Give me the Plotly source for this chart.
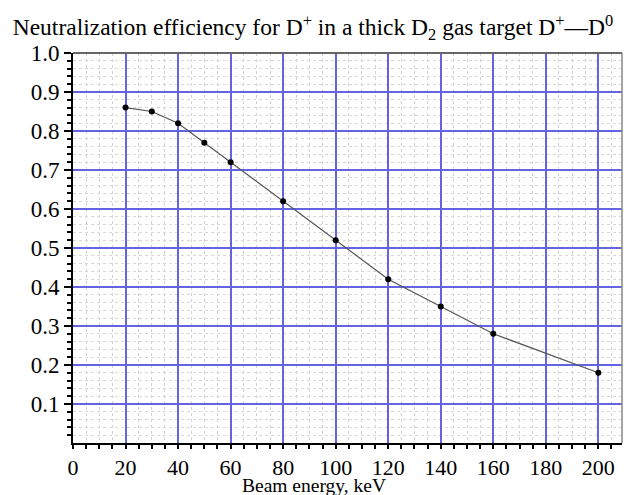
import plotly.graph_objects as go

energy = [20, 30, 40, 50, 60, 80, 100, 120, 140, 160, 200]
efficiency = [0.86, 0.85, 0.82, 0.77, 0.72, 0.62, 0.52, 0.42, 0.35, 0.28, 0.18]

x_ticks = [0, 20, 40, 60, 80, 100, 120, 140, 160, 180, 200]
y_ticks = [0.1, 0.2, 0.3, 0.4, 0.5, 0.6, 0.7, 0.8, 0.9, 1.0]
y_tick_text = ["0.1", "0.2", "0.3", "0.4", "0.5", "0.6", "0.7", "0.8", "0.9", "1.0"]

# minor positions (exclude major ones to avoid overlap)
x_minor = [v for v in range(0, 210, 5) if v % 20 != 0]
y_minor = [k / 100 for k in range(0, 101, 2) if k % 10 != 0]

font_family = "Liberation Serif"

fig = go.Figure()
fig.add_trace(go.Scatter(
    x=energy, y=efficiency, mode="lines+markers",
    line=dict(color="#555555", width=1.2),
    marker=dict(color="black", size=6),
    showlegend=False,
))

fig.update_layout(
    width=626, height=495,
    margin=dict(l=73, r=4, t=53, b=52),
    paper_bgcolor="white", plot_bgcolor="white",
    font=dict(family=font_family, color="black"),
    title=dict(
        text="Neutralization efficiency for D<sup>+</sup> in a thick D<sub>2</sub> gas target D<sup>+</sup>—D<sup>0</sup>",
        x=0.5, xanchor="center", xref="container",
        y=0.945, yanchor="middle", yref="container",
        font=dict(size=23.5, family=font_family, color="black"),
    ),
    shapes=[
        dict(type="line", xref="paper", yref="paper", x0=0, x1=1, y0=1, y1=1,
             line=dict(color="#666666", width=2)),
        dict(type="line", xref="paper", yref="paper", x0=1, x1=1, y0=0, y1=1,
             line=dict(color="#888888", width=1.5)),
    ],
    annotations=[
        dict(text="Beam energy, keV", xref="paper", yref="paper", x=0.439, y=0,
             xanchor="center", yanchor="middle", yshift=-42, showarrow=False,
             font=dict(size=19.5, family=font_family, color="black")),
    ],
)

fig.update_xaxes(
    range=[0, 209], tickvals=x_ticks, ticktext=[str(v) for v in x_ticks],
    showgrid=True, gridcolor="#6464e2", gridwidth=1.5,
    showline=True, linecolor="black", linewidth=2,
    ticks="outside", ticklen=4, tickwidth=2, tickcolor="black",
    tickfont=dict(size=22, family=font_family, color="black"),
    zeroline=False,
    minor=dict(tickvals=x_minor, ticks="outside", ticklen=4, tickwidth=2, tickcolor="black",
               showgrid=True, gridcolor="#d2d2d2", griddash="dot", gridwidth=1),
)

fig.update_yaxes(
    range=[0, 1.0], tickvals=y_ticks, ticktext=y_tick_text,
    showgrid=True, gridcolor="#6464e2", gridwidth=1.5,
    showline=True, linecolor="black", linewidth=2,
    ticks="outside", ticklen=7, tickwidth=2, tickcolor="black",
    tickfont=dict(size=23, family=font_family, color="black"),
    zeroline=False,
    minor=dict(tickvals=y_minor, ticks="outside", ticklen=4, tickwidth=2, tickcolor="black",
               showgrid=True, gridcolor="#d8d8d8", griddash="dot", gridwidth=1),
)

fig.write_html("out.html")
